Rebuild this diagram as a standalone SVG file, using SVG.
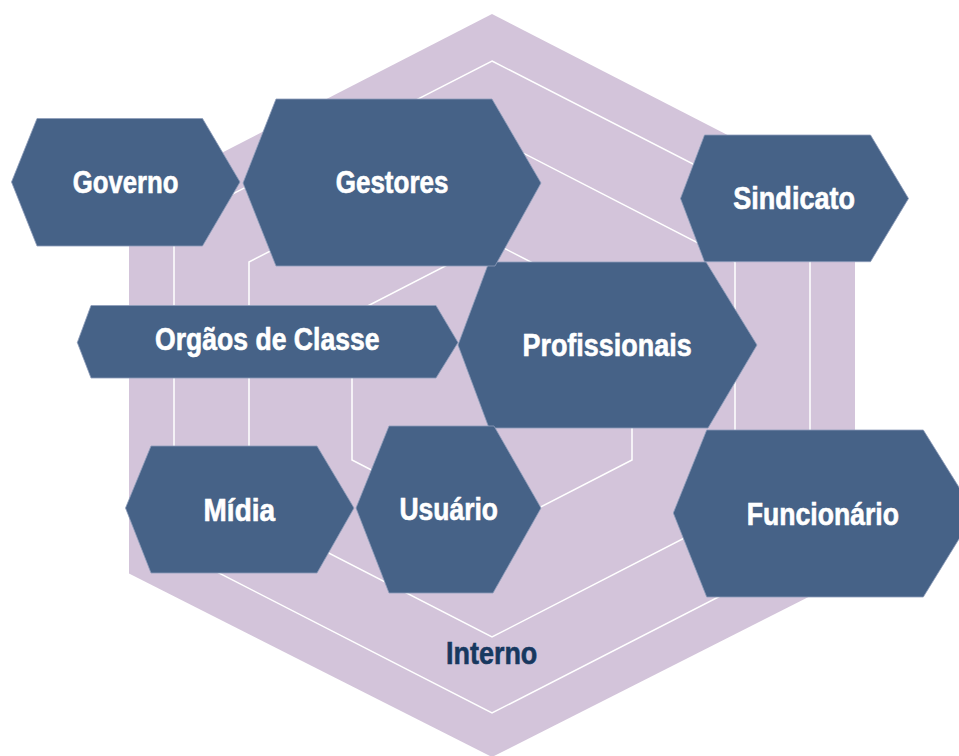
<svg xmlns="http://www.w3.org/2000/svg" width="959" height="756" viewBox="0 0 959 756">
<style>
.bg{fill:#D3C4DA}
.ring{fill:none;stroke:#ffffff;stroke-width:1.5}
.node{fill:#466287;stroke:#8E9DBA;stroke-width:0.8}
.lbl{font-family:"Liberation Sans",Arial,sans-serif;font-weight:bold;font-size:31px;fill:#ffffff;stroke:#ffffff;stroke-width:0.6}
.dark{fill:#17385F;stroke:#17385F}
</style>
<rect width="959" height="756" fill="#ffffff"/>
<g id="background">
<polygon class="bg" points="492,14 855,200.5 855,573.5 492,757 129,573.5 129,200.5"/>
<polygon class="ring" points="492,61 810,224 810,550 492,713 174,550 174,224"/>
<polygon class="ring" points="492,137 735,262 735,512 492,637 249,512 249,262"/>
<polygon class="ring" points="492,242 632,314 632,460 492,532 352,460 352,314"/>
</g>
<g id="connectors"></g>
<g id="profissionais">
<polygon class="node" points="489,262 706,262 757,345 708,428 489,428 458,345"/>
<text class="lbl" x="522.4" y="356" textLength="169.4" lengthAdjust="spacingAndGlyphs">Profissionais</text>
</g>
<g id="governo">
<polygon class="node" points="37,118.5 202.5,118.5 240,182 202.5,246 37,246 11.5,182"/>
<text class="lbl" x="72.7" y="193" textLength="105.7" lengthAdjust="spacingAndGlyphs">Governo</text>
</g>
<g id="gestores">
<polygon class="node" points="276,99 492,99 541,183 495,266 276,266 243,183"/>
<text class="lbl" x="335.7" y="193.3" textLength="112.8" lengthAdjust="spacingAndGlyphs">Gestores</text>
</g>
<g id="sindicato">
<polygon class="node" points="704.5,135 870.5,135 908.5,198.5 870.5,261.7 704.5,261.7 680.5,198.5"/>
<text class="lbl" x="733.3" y="209.3" textLength="121.7" lengthAdjust="spacingAndGlyphs">Sindicato</text>
</g>
<g id="orgaos">
<polygon class="node" points="91,305.5 436,305.5 458,342.5 436,378 91,378 77.3,342.5"/>
<text class="lbl" x="155" y="350" textLength="224.6" lengthAdjust="spacingAndGlyphs">Orgãos de Classe</text>
</g>
<g id="midia">
<polygon class="node" points="151,446 317,446 354,508 317,573 151,573 125.5,508"/>
<text class="lbl" x="203.6" y="520.7" textLength="71.4" lengthAdjust="spacingAndGlyphs">Mídia</text>
</g>
<g id="usuario">
<polygon class="node" points="389,426 494,426 541,508 493,593 389,593 356,508"/>
<text class="lbl" x="399.5" y="520.3" textLength="98.5" lengthAdjust="spacingAndGlyphs">Usuário</text>
</g>
<g id="funcionario">
<polygon class="node" points="706.7,430 923.3,430 975,513 923.3,597 706.7,597 673.3,513"/>
<text class="lbl" x="746.7" y="525" textLength="152.3" lengthAdjust="spacingAndGlyphs">Funcionário</text>
</g>
<g id="interno">
<text class="lbl dark" x="446" y="664" textLength="91.3" lengthAdjust="spacingAndGlyphs">Interno</text>
</g>
</svg>
